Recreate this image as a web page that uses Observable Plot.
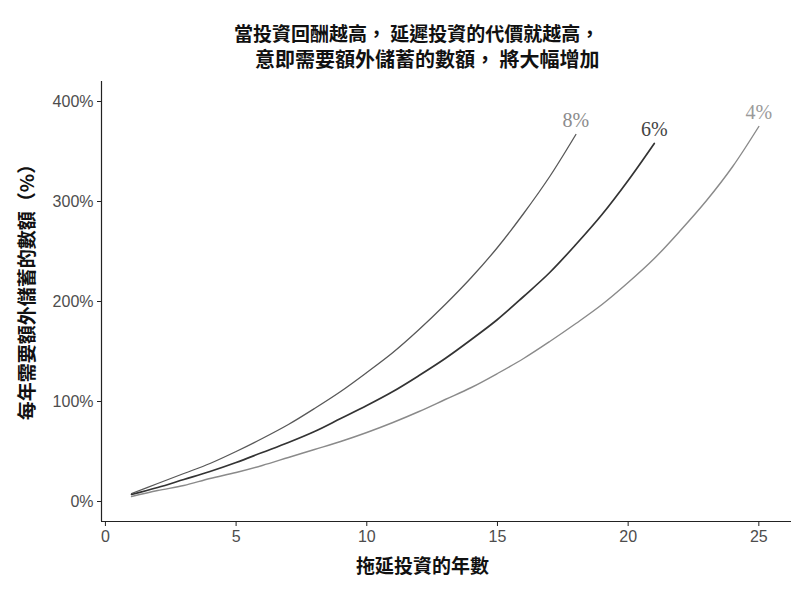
<!DOCTYPE html>
<html>
<head>
<meta charset="utf-8">
<script src="https://cdn.jsdelivr.net/npm/d3@7"></script>
<script src="https://cdn.jsdelivr.net/npm/@observablehq/plot@0.6"></script>
<style>
  body { margin: 0; background: #fff; }
  #wrap { position: relative; width: 800px; height: 592px; background: #fff; }
  .t { position: absolute; font-family: "Noto Sans CJK TC", "Noto Sans", sans-serif; font-weight: bold; color: #111; white-space: pre; line-height: 1; }
  #chart { position: absolute; left: 0; top: 70px; }
</style>
</head>
<body>
<div id="wrap">
  <div class="t" id="t1" style="left:234px; top:23px; font-size:19px;"></div>
  <div class="t" id="t2" style="left:255px; top:49px; font-size:20px;"></div>
  <div id="chart"></div>
</div>
<script>
// ---- data ----
const titleLines = ["當投資回酬越高， 延遲投資的代價就越高，", "意即需要額外儲蓄的數額， 將大幅增加"];
const xLabel = "拖延投資的年數";
const yLabel = "每年需要額外儲蓄的數額（%）";

const rates = ["8%", "6%", "4%"];

const years8 = [1,2,3,4,5,6,7,8,9,10,11,12,13,14,15,16,17,18];
const pct8   = [8,18,28,38,50,63,77,93,110,129,149,172,197,224,254,288,325,367];

const years6 = [1,2,3,4,5,6,7,8,9,10,11,12,13,14,15,16,17,18,19,20,21];
const pct6   = [7,14,22,30,39,49,59,70,83,96,110,126,143,162,182,205,229,257,287,321,358];

const years4 = [1,2,3,4,5,6,7,8,9,10,11,12,13,14,15,16,17,18,19,20,21,22,23,24,25];
const pct4   = [5,11,16,23,29,36,44,52,60,69,79,90,102,114,128,143,160,178,197,219,243,271,301,335,375];

const xTicks = [0,5,10,15,20,25];
const yTicks = [0,100,200,300,400];

// ---- build tables ----
const seriesYears = {"8%": years8, "6%": years6, "4%": years4};
const seriesPct   = {"8%": pct8,   "6%": pct6,   "4%": pct4};
const tables = rates.map(r => seriesYears[r].map((x, i) => ({rate: r, year: x, pct: seriesPct[r][i]})));

// ---- styles ----
const lineStyle = {
  "8%": {stroke: "#585858", width: 1.3, label: "#8c8c8c"},
  "6%": {stroke: "#333333", width: 1.7, label: "#444444"},
  "4%": {stroke: "#8a8a8a", width: 1.4, label: "#9a9a9a"}
};
const xDomain = [-0.15, 26.25];
const yDomain = [-20, 420];

document.getElementById("t1").textContent = titleLines[0];
document.getElementById("t2").textContent = titleLines[1];

const marks = [];
tables.forEach((tbl, i) => {
  const s = lineStyle[rates[i]];
  marks.push(Plot.line(tbl, {x: "year", y: "pct", stroke: s.stroke, strokeWidth: s.width, curve: "catmull-rom"}));
  marks.push(Plot.text(tbl, Plot.selectLast({x: "year", y: "pct", text: "rate", fill: s.label, dy: -14,
    fontFamily: "'Liberation Serif', 'DejaVu Serif', serif", fontSize: 20, textAnchor: "middle"})));
});

const chart = Plot.plot({
  width: 800,
  height: 522,
  marginLeft: 101,
  marginRight: 9,
  marginTop: 11,
  marginBottom: 71,
  style: {background: "#fff", fontFamily: "'Liberation Sans', Arial, sans-serif"},
  x: {domain: xDomain, label: null},
  y: {domain: yDomain, label: null},
  marks: [
    ...marks,
    Plot.ruleX([xDomain[0]], {stroke: "#222", strokeWidth: 1.2}),
    Plot.ruleY([yDomain[0]], {stroke: "#222", strokeWidth: 1.2}),
    Plot.axisX(xTicks, {tickSize: 5, tickPadding: 4, fontSize: 16, fill: "#4d4d4d", stroke: "#222", label: null}),
    Plot.axisY(yTicks, {tickSize: 4, tickPadding: 4, fontSize: 16, fill: "#4d4d4d", stroke: "#222", label: null, tickFormat: d => d + "%"}),
    Plot.text([xLabel], {frameAnchor: "bottom", text: d => d, dy: 45, dx: -24, fontSize: 19, fontWeight: "bold",
      textAnchor: "middle", lineAnchor: "middle",
      fontFamily: "'Noto Sans CJK TC', sans-serif", fill: "#111"}),
    Plot.text([yLabel], {frameAnchor: "left", text: d => d, rotate: -90, dx: -74, dy: -14, fontSize: 19, fontWeight: "bold",
      textAnchor: "middle", lineAnchor: "middle",
      fontFamily: "'Noto Sans CJK TC', sans-serif", fill: "#111"})
  ]
});
document.getElementById("chart").appendChild(chart);
</script>
</body>
</html>
